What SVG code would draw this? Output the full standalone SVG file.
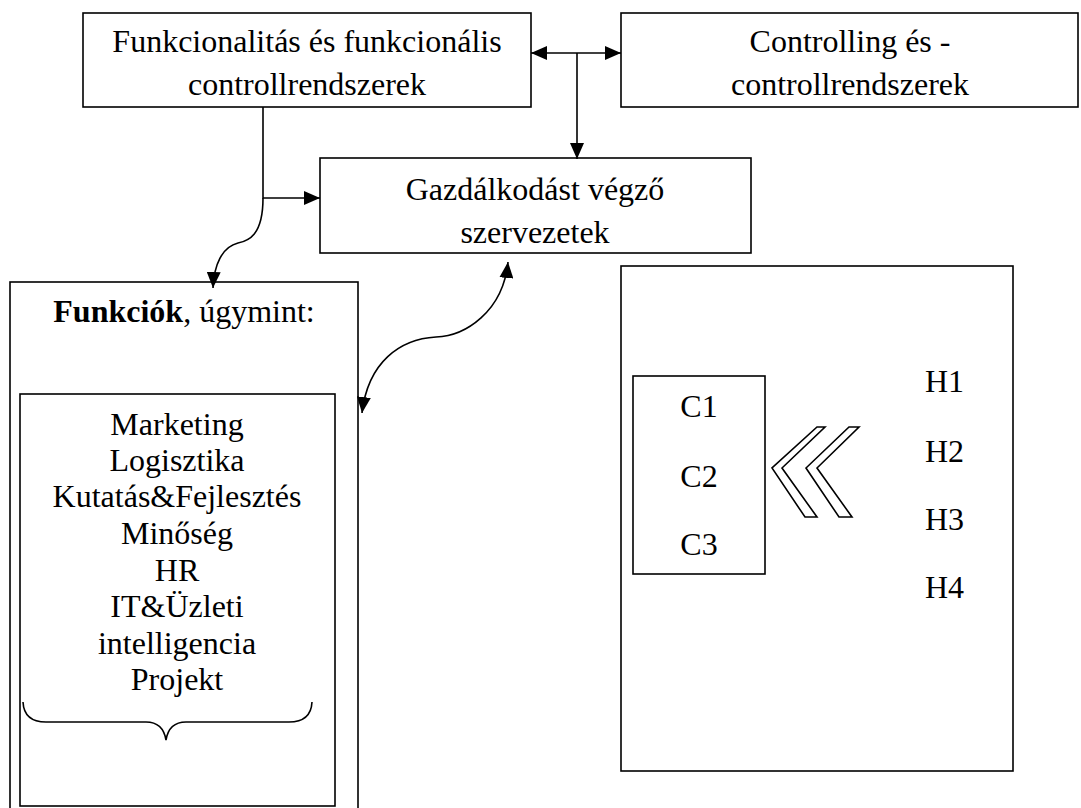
<svg xmlns="http://www.w3.org/2000/svg" width="1081" height="808" viewBox="0 0 1081 808">
<defs>
<style>
.box{fill:#fff;stroke:#000;stroke-width:1.6}
.ln{fill:none;stroke:#000;stroke-width:1.6}
.t{font-family:"Liberation Serif","Times New Roman",serif;font-size:32px;fill:#000;text-anchor:middle}
.tl{font-family:"Liberation Serif","Times New Roman",serif;font-size:32px;fill:#000}
</style>
<marker id="ah" viewBox="0 0 16 14" refX="16" refY="7" markerWidth="16" markerHeight="14" markerUnits="userSpaceOnUse" orient="auto-start-reverse">
<path d="M0,0 L16,7 L0,14 Z" fill="#000"/>
</marker>
</defs>
<rect width="1081" height="808" fill="#fff"/>

<g id="node-funkcionalitas">
<rect class="box" x="83" y="13" width="448" height="94"/>
<text class="t" x="307" y="52">Funkcionalitás és funkcionális</text>
<text class="t" x="307" y="95">controllrendszerek</text>
</g>

<g id="node-controlling">
<rect class="box" x="621" y="13" width="457" height="94"/>
<text class="t" x="850" y="52">Controlling és -</text>
<text class="t" x="850" y="95">controllrendszerek</text>
</g>

<g id="node-gazdalkodast">
<rect class="box" x="320" y="158" width="431" height="95"/>
<text class="t" x="535" y="200">Gazdálkodást végző</text>
<text class="t" x="535" y="243">szervezetek</text>
</g>

<g id="node-funkciok">
<rect class="box" x="10" y="282" width="348" height="535"/>
<text class="t" x="184" y="322"><tspan font-weight="bold">Funkciók</tspan>, úgymint:</text>
<rect class="box" x="20" y="394" width="315" height="412"/>
<text class="t" x="177" y="435">Marketing</text>
<text class="t" x="177" y="471">Logisztika</text>
<text class="t" x="177" y="507">Kutatás&amp;Fejlesztés</text>
<text class="t" x="177" y="544">Minőség</text>
<text class="t" x="177" y="581">HR</text>
<text class="t" x="177" y="617">IT&amp;Üzleti</text>
<text class="t" x="177" y="654">intelligencia</text>
<text class="t" x="177" y="690">Projekt</text>
<path class="ln" d="M23,702 Q24,722 46,722 L146,722 Q163,722 166,740 Q169,722 186,722 L289,722 Q311,722 312,702"/>
</g>

<g id="node-right">
<rect class="box" x="621" y="266" width="392" height="505"/>
<g id="node-c">
<rect class="box" x="633" y="376" width="132" height="198"/>
<text class="t" x="699" y="417">C1</text>
<text class="t" x="699" y="487">C2</text>
<text class="t" x="699" y="555">C3</text>
</g>
<g id="chevrons">
<polygon class="ln" points="817,427 825,427 782,468 817,517 805,517 772,468"/>
<polygon class="ln" points="849,427 859,427 817,468 852,517 839,517 806,468"/>
</g>
<g id="node-h">
<text class="tl" x="925" y="392">H1</text>
<text class="tl" x="925" y="462">H2</text>
<text class="tl" x="925" y="530">H3</text>
<text class="tl" x="925" y="598">H4</text>
</g>
</g>

<g id="connectors">
<line class="ln" x1="531" y1="53" x2="621" y2="53" marker-start="url(#ah)" marker-end="url(#ah)"/>
<line class="ln" x1="577" y1="53" x2="577" y2="159" marker-end="url(#ah)"/>
<path class="ln" d="M263,107 L263,198 L320,198" marker-end="url(#ah)"/>
<path class="ln" d="M263,198 C263,236 248,241 238,243 C222,247 214,265 213,288" marker-end="url(#ah)"/>
<path class="ln" d="M508,262 C503,312 465,336 436,337 C400,339 368,362 362,413" marker-start="url(#ah)" marker-end="url(#ah)"/>
</g>
</svg>
